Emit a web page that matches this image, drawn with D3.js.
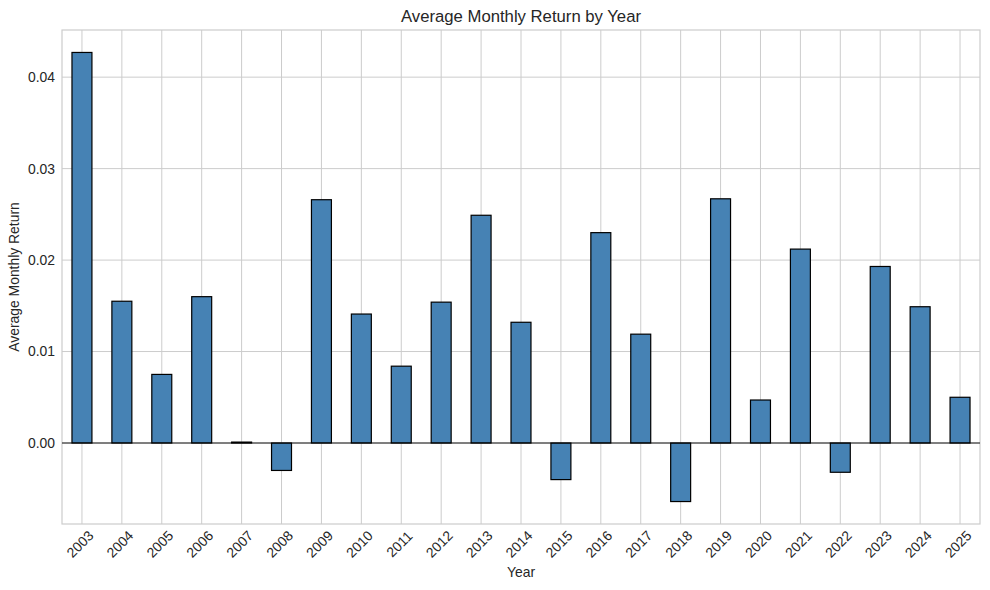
<!DOCTYPE html>
<html>
<head>
<meta charset="utf-8">
<title>Average Monthly Return by Year</title>
<script src="https://cdn.jsdelivr.net/npm/d3@7"></script>
<style>
  body { margin: 0; background: #fff; }
  text { font-family: "Liberation Sans", Arial, sans-serif; fill: #262626; }
</style>
</head>
<body>
<script>
// data
var years = ["2003","2004","2005","2006","2007","2008","2009","2010","2011","2012","2013","2014",
             "2015","2016","2017","2018","2019","2020","2021","2022","2023","2024","2025"];
var avgReturn = [0.0427, 0.0155, 0.0075, 0.0160, 0.0001, -0.0030, 0.0266, 0.0141, 0.0084, 0.0154,
                 0.0249, 0.0132, -0.0040, 0.0230, 0.0119, -0.0064, 0.0267, 0.0047, 0.0212, -0.0032,
                 0.0193, 0.0149, 0.0050];
var yTicks = [0, 0.01, 0.02, 0.03, 0.04];

var w = 990, h = 590;
var pLeft = 62, pRight = 980, pTop = 30, pBottom = 524;

var svg = d3.select("body").append("svg")
    .attr("width", w)
    .attr("height", h);

var x = d3.scaleBand()
    .domain(years)
    .range([pLeft, pRight]);

// 5% padding like matplotlib
var lo = d3.min(avgReturn), hi = d3.max(avgReturn);
var pad = (hi - lo) * 0.05;
var y = d3.scaleLinear()
    .domain([lo - pad, hi + pad])
    .range([pBottom, pTop]);

// grid
svg.append("g").selectAll("line")
  .data(years).enter().append("line")
    .attr("x1", function(d) { return x(d) + x.bandwidth() / 2; })
    .attr("x2", function(d) { return x(d) + x.bandwidth() / 2; })
    .attr("y1", pTop).attr("y2", pBottom)
    .attr("stroke", "#cccccc").attr("stroke-width", 1);

svg.append("g").selectAll("line")
  .data(yTicks).enter().append("line")
    .attr("x1", pLeft).attr("x2", pRight)
    .attr("y1", function(d) { return y(d); })
    .attr("y2", function(d) { return y(d); })
    .attr("stroke", "#cccccc").attr("stroke-width", 1);

// frame
svg.append("rect")
    .attr("x", pLeft).attr("y", pTop)
    .attr("width", pRight - pLeft).attr("height", pBottom - pTop)
    .attr("fill", "none").attr("stroke", "#cccccc").attr("stroke-width", 1.2);

// bars
var bw = x.bandwidth() * 0.5;
svg.append("g").selectAll("rect")
  .data(avgReturn).enter().append("rect")
    .attr("x", function(d, i) { return x(years[i]) + (x.bandwidth() - bw) / 2; })
    .attr("y", function(d) { return y(Math.max(0, d)); })
    .attr("width", bw)
    .attr("height", function(d) { return Math.abs(y(d) - y(0)); })
    .attr("fill", "#4682b4")
    .attr("stroke", "#000")
    .attr("stroke-width", 1.2);

// zero line
svg.append("line")
    .attr("x1", pLeft).attr("x2", pRight)
    .attr("y1", y(0)).attr("y2", y(0))
    .attr("stroke", "#000").attr("stroke-width", 0.9);

// y axis labels
var yAxis = d3.axisLeft(y).tickValues(yTicks).tickFormat(d3.format(".2f")).tickSize(0).tickPadding(7);
var gy = svg.append("g").attr("transform", "translate(" + pLeft + ",0)").call(yAxis);
gy.select(".domain").remove();
gy.selectAll("text").style("font-size", "13.9px").attr("fill", "#262626");

// x axis labels
var xAxis = d3.axisBottom(x).tickSize(0);
var gx = svg.append("g").attr("transform", "translate(0," + pBottom + ")").call(xAxis);
gx.select(".domain").remove();
gx.selectAll("text")
    .style("font-size", "13.9px")
    .attr("fill", "#262626")
    .attr("text-anchor", "middle")
    .attr("dy", null)
    .attr("y", 0)
    .attr("dominant-baseline", "central")
    .attr("transform", "translate(-2,20) rotate(-45)");

// titles
svg.append("text")
    .attr("x", (pLeft + pRight) / 2).attr("y", 22)
    .attr("text-anchor", "middle")
    .style("font-size", "16.7px")
    .text("Average Monthly Return by Year");

svg.append("text")
    .attr("x", (pLeft + pRight) / 2).attr("y", 577)
    .attr("text-anchor", "middle")
    .style("font-size", "13.9px")
    .text("Year");

svg.append("text")
    .attr("transform", "translate(19," + ((pTop + pBottom) / 2) + ") rotate(-90)")
    .attr("text-anchor", "middle")
    .style("font-size", "13.9px")
    .text("Average Monthly Return");
</script>
</body>
</html>
